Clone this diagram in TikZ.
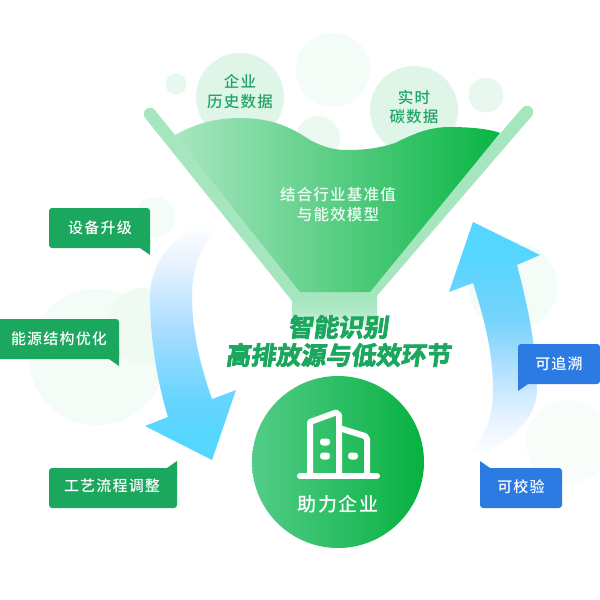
\documentclass[tikz,border=0pt]{standalone}
\usepackage{fontspec}
\usetikzlibrary{calc}
\newfontfamily\cjk[LetterSpace=8]{Noto Sans CJK SC Medium}
\newfontfamily\cjkt[FakeSlant=0.14,FakeBold=3]{Noto Sans CJK SC Bold}
\definecolor{bandg}{HTML}{A5E6BF}
\definecolor{liqL}{HTML}{A8E6C1}
\definecolor{liqR}{HTML}{08B544}
\definecolor{bubble}{HTML}{DFF5E8}
\definecolor{faint}{HTML}{F4FCF7}
\definecolor{callg}{HTML}{1BA75E}
\definecolor{callb}{HTML}{2B7BE3}
\definecolor{txtg}{HTML}{1FA566}
\definecolor{circL}{HTML}{52CC88}
\definecolor{circR}{HTML}{07B141}
\pgfdeclareverticalshading{arrowdown}{100bp}{
  rgb(0bp)=(0.33,0.84,1); rgb(29bp)=(0.33,0.84,1); rgb(37.5bp)=(0.40,0.835,1);
  rgb(52.5bp)=(0.66,0.865,1); rgb(65bp)=(0.89,0.945,1); rgb(74.5bp)=(1,1,1); rgb(100bp)=(1,1,1)}
\pgfdeclareverticalshading{arrowup}{100bp}{
  rgb(0bp)=(1,1,1); rgb(26bp)=(1,1,1); rgb(33.5bp)=(0.91,0.955,1); rgb(44bp)=(0.70,0.88,1);
  rgb(54.5bp)=(0.46,0.83,0.985); rgb(69bp)=(0.33,0.84,1); rgb(100bp)=(0.33,0.84,1)}
\tikzset{
  x=1pt,y=-1pt,
  faintdisc/.style={fill=faint,draw=none},
  calltext/.style={inner sep=0pt,text=white,font=\cjk\fontsize{15}{18}\selectfont},
  bubtext/.style={inner sep=0pt,text=txtg,align=center,font=\cjk\fontsize{15.5}{19.5}\selectfont},
  titletext/.style={inner sep=0pt,text=callg,align=center,font=\cjkt\fontsize{25}{28}\selectfont},
  iconline/.style={draw=white,line width=6pt,line join=round,line cap=round},
  pill/.style={fill=white,rounded corners=3pt}
}
\begin{document}
\begin{tikzpicture}
\useasboundingbox (0,0) rectangle (600,600);
\fill[white] (0,0) rectangle (600,600);
% faint discs
\fill[faintdisc] (333,70) circle (37);
\fill[faintdisc,fill=bubble!70] (176,84) circle (10.5);
\fill[faintdisc,fill=bubble!70] (486,95) circle (17.5);
\fill[faintdisc,fill=faint!60!bubble] (318,138) circle (22);
\fill[faintdisc] (155,217) circle (20);
\fill[faintdisc] (97,357) circle (68);
\fill[faintdisc,fill=faint!70!bubble] (145,326) circle (38);
\fill[faintdisc] (513,286) circle (44.5);
\fill[faintdisc,fill=faint!60!white] (568,442) circle (42);
% bubbles
\fill[bubble] (240,97) circle (44);
\fill[bubble] (414,110) circle (44);
\node[bubtext] (hist) at (240,91.5) {企业\\历史数据};
\node[bubtext] (real) at (414,107) {实时\\碳数据};
% funnel band and stem
\shade[top color=bandg,bottom color=white,middle color=bandg!85] (292,296) rectangle (377,330);
\draw[bandg,line width=12.5pt,line cap=round] (150,114) -- (297,297);
\draw[bandg,line width=12.5pt,line cap=round] (527,112) -- (372,292);
\fill[bandg] (297,290) -- (372,290) -- (377,301) -- (292,301) -- cycle;
% liquid
\shade[left color=liqL,right color=liqR]
  (175,135) .. controls (195,124) and (215,118) .. (240,118)
  .. controls (275,118) and (295,130) .. (310,140)
  .. controls (325,148) and (335,150) .. (348,150)
  .. controls (365,150) and (380,148) .. (395,143)
  .. controls (415,133) and (430,127) .. (450,127)
  .. controls (470,127) and (490,129) .. (500,133)
  -- (370,292) -- (300,292) -- cycle;
\node[inner sep=0pt,text=white,align=center,opacity=.92,font=\cjk\fontsize{15.5}{20}\selectfont] (model) at (338,205) {结合行业基准值\\与能效模型};
% left arrow
\shade[shading=arrowdown]
  (200,222) .. controls (170,240) and (150,265) .. (150,297)
  .. controls (150,340) and (158,385) .. (168,417)
  -- (145,426) -- (212,460) -- (236,390) -- (212,399)
  .. controls (200,365) and (192,330) .. (192,297)
  .. controls (192,265) and (203,240) .. (222,225) -- cycle;
% right arrow
\shade[shading=arrowup]
  (473,222) -- (540,255) -- (517,265)
  .. controls (525,295) and (537,345) .. (537,390)
  .. controls (537,420) and (505,450) .. (460,460)
  .. controls (480,445) and (493,425) .. (493,390)
  .. controls (493,350) and (483,315) .. (473,283)
  -- (449,292) -- cycle;
% title
\node[titletext] (title) at (338,341) {智能识别\\高排放源与低效环节};
% circle
\shade[left color=circL,right color=circR] (338,462) circle (86);
\draw[iconline] (300,476) -- (377,476);
\draw[iconline] (310,476) -- (310,422) -- (336,412.5) -- (339,415) -- (339,476);
\draw[iconline] (339,428) -- (365,436) -- (367,439) -- (367,476);
\fill[pill] (320,438.5) rectangle (330,445.5);
\fill[pill] (320,452.5) rectangle (330,459.5);
\fill[pill] (348,452.5) rectangle (358,459.5);
\node[inner sep=0pt,text=white,font=\cjk\fontsize{19}{22}\selectfont] (help) at (338,504) {助力企业};
% callouts
\fill[callg,rounded corners=3pt] (49,208) rectangle (150,248);
\fill[callg] (150,240) -- (150,255) -- (140,248) -- cycle;
\node[calltext] (c1) at (100,228) {设备升级};
\fill[callg,rounded corners=3pt] (-5,319) rectangle (119,359);
\fill[callg] (119,350) -- (119,366) -- (109,359) -- cycle;
\node[calltext] (c2) at (59,339) {能源结构优化};
\fill[callg,rounded corners=3pt] (49,468) rectangle (177,508);
\fill[callg] (177,476) -- (177,461) -- (167,468) -- cycle;
\node[calltext] (c3) at (112,486) {工艺流程调整};
\fill[callb,rounded corners=3pt] (518,344) rectangle (600,384);
\fill[callb] (518,375) -- (518,391) -- (528,384) -- cycle;
\node[calltext] (c4) at (559,364) {可追溯};
\fill[callb,rounded corners=3pt] (480,468) rectangle (562,508);
\fill[callb] (480,476) -- (480,461) -- (490,468) -- cycle;
\node[calltext] (c5) at (521,487) {可校验};
\end{tikzpicture}
\end{document}
